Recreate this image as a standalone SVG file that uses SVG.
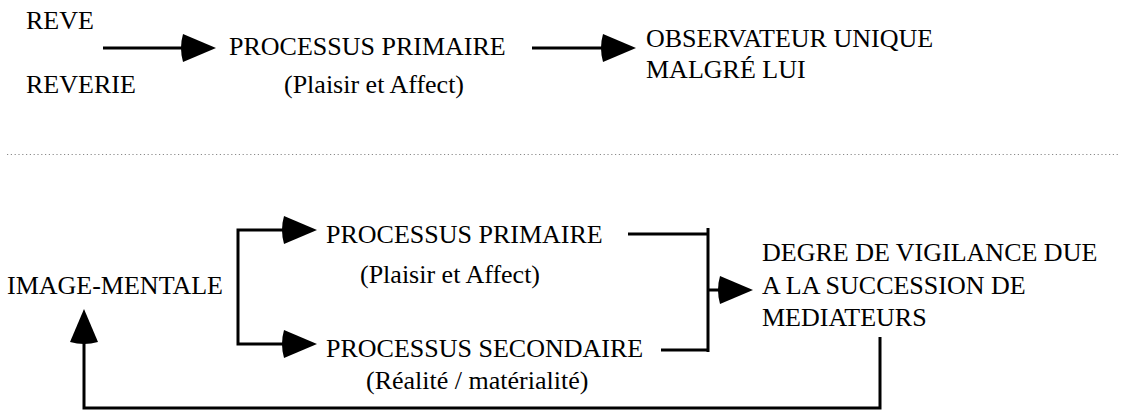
<svg xmlns="http://www.w3.org/2000/svg" width="1122" height="415" viewBox="0 0 1122 415">
<style>
text{font-family:"Liberation Serif","Times New Roman",serif;font-size:26px;fill:#000}
.ln{fill:none;stroke:#000;stroke-width:3}
.dot{fill:none;stroke:#8a8a8a;stroke-width:1.2;stroke-dasharray:1.2 2.6}
.ah{fill:#000}
</style>
<defs>
<path id="ah" class="ah" d="M0,0 L-33,-14 Q-37,0 -33,14 Z"/>
</defs>
<rect width="1122" height="415" fill="#fff"/>
<g id="reve"><text x="26" y="29">REVE</text></g>
<g id="reverie"><text x="26" y="93">REVERIE</text></g>
<g id="pp1"><text x="229" y="55">PROCESSUS PRIMAIRE</text><text x="284" y="93">(Plaisir et Affect)</text></g>
<g id="obs"><text x="646" y="47">OBSERVATEUR UNIQUE</text><text x="646" y="78">MALGRÉ LUI</text></g>
<g id="sep"><path class="dot" d="M7,154.5 H1118"/></g>
<g id="img"><text x="7" y="294">IMAGE-MENTALE</text></g>
<g id="pp2"><text x="326" y="243">PROCESSUS PRIMAIRE</text><text x="360" y="283">(Plaisir et Affect)</text></g>
<g id="ps"><text x="326" y="357">PROCESSUS SECONDAIRE</text><text x="366" y="389">(Réalité / matérialité)</text></g>
<g id="degre"><text x="762" y="261">DEGRE DE VIGILANCE DUE</text><text x="762" y="294">A LA SUCCESSION DE</text><text x="762" y="326">MEDIATEURS</text></g>
<g id="connectors">
<path class="ln" d="M103,48 H186"/><use href="#ah" transform="translate(216,48)"/>
<path class="ln" d="M532,48 H606"/><use href="#ah" transform="translate(636,48)"/>
<path class="ln" d="M286,230 H238 V344 H286"/>
<use href="#ah" transform="translate(317,230)"/><use href="#ah" transform="translate(317,344)"/>
<path class="ln" d="M628,234 H708 M708,228 V352 M661,350 H708 M708,290 H724"/>
<use href="#ah" transform="translate(753,290)"/>
<path class="ln" d="M880,337 V408 H84 V338"/>
<use href="#ah" transform="translate(84,309) rotate(-90)"/>
</g>
</svg>
